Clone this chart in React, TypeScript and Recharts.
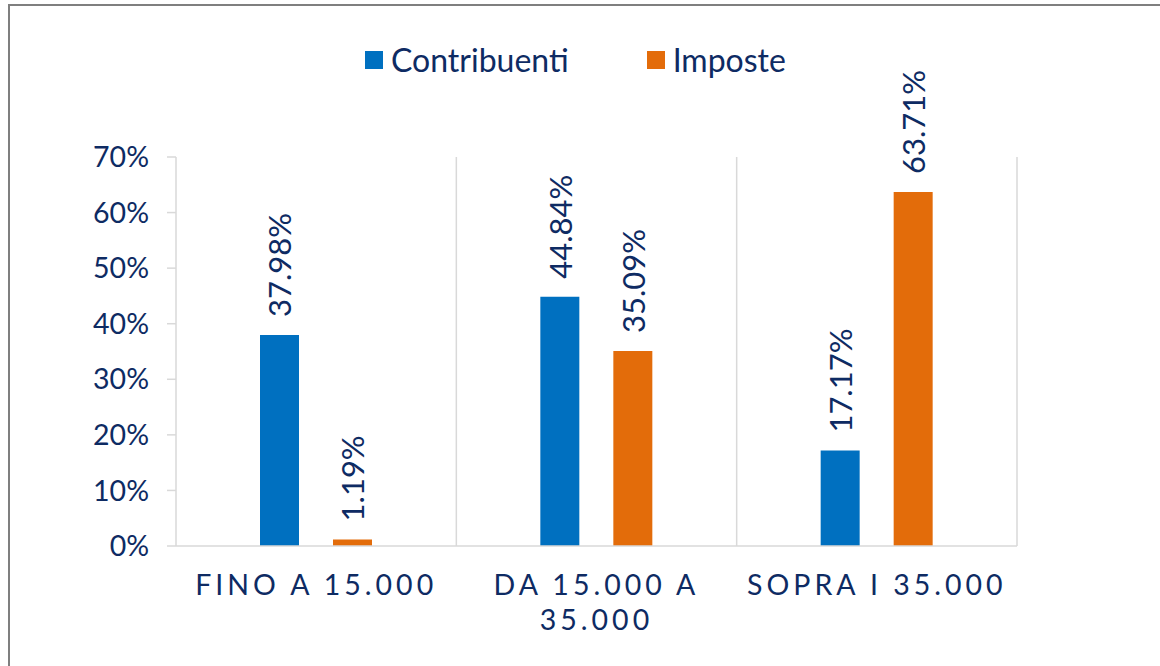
import { Bar, BarChart, CartesianGrid, LabelList, XAxis, YAxis } from 'recharts';

const categories = ['FINO A 15.000', 'DA 15.000 A 35.000', 'SOPRA I 35.000'];
const contribuenti = [37.98, 44.84, 17.17];
const imposte = [1.19, 35.09, 63.71];
const yTicks = [0, 10, 20, 30, 40, 50, 60, 70];

const NAVY = '#0E2B63';
const BLUE = '#0070C0';
const ORANGE = '#E36C0A';
const GRID = '#D9D9D9';
const FONT = 'Lato, "Open Sans", sans-serif';

const chartData = categories.map((name, i) => ({
  name,
  contribuenti: contribuenti[i],
  imposte: imposte[i],
}));

// simple greedy wrap so the long category splits like Excel does
const wrapLabel = (label: string, maxChars = 14): string[] => {
  const words = label.split(' ');
  const lines: string[] = [];
  let cur = '';
  words.forEach((w) => {
    const next = cur ? `${cur} ${w}` : w;
    if (next.length > maxChars && cur) {
      lines.push(cur);
      cur = w;
    } else {
      cur = next;
    }
  });
  if (cur) lines.push(cur);
  return lines;
};

const CategoryTick = ({ x, y, payload }: any) => {
  const lines = wrapLabel(String(payload.value));
  return (
    <text
      x={x}
      y={y}
      textAnchor="middle"
      fill={NAVY}
      fontSize={28.5}
      fontFamily={FONT}
      letterSpacing={4}
    >
      {lines.map((line, i) => (
        <tspan key={i} x={x} dy={i === 0 ? 49 : 35}>
          {line}
        </tspan>
      ))}
    </text>
  );
};

const ValueLabel = ({ x, y, width, value }: any) => {
  const cx = x + width / 2;
  const ty = y - 18;
  return (
    <text
      x={cx}
      y={ty}
      transform={`rotate(-90, ${cx}, ${ty})`}
      textAnchor="start"
      dominantBaseline="central"
      fill={NAVY}
      fontSize={31}
      fontFamily={FONT}
    >
      {`${Number(value).toFixed(2)}%`}
    </text>
  );
};

const LegendItem = ({ color, label }: { color: string; label: string }) => (
  <div style={{ display: 'flex', alignItems: 'center' }}>
    <span style={{ width: 18, height: 18, background: color, display: 'inline-block', marginRight: 8 }} />
    <span style={{ fontSize: 32, color: NAVY, fontFamily: FONT, lineHeight: '32px' }}>{label}</span>
  </div>
);

export default function App() {
  return (
    <div
      style={{
        position: 'fixed',
        left: 8,
        top: 4,
        width: 1170,
        height: 680,
        border: '2px solid #7F7F7F',
        boxSizing: 'border-box',
        background: '#fff',
      }}
    >
      <div
        style={{
          position: 'absolute',
          left: 355,
          top: 38,
          display: 'flex',
          gap: 78,
        }}
      >
        <LegendItem color={BLUE} label="Contribuenti" />
        <LegendItem color={ORANGE} label="Imposte" />
      </div>
      <BarChart
        width={1150}
        height={660}
        data={chartData}
        margin={{ top: 151, right: 143, bottom: 0, left: 0 }}
        barSize={39}
        barGap={34}
      >
        <CartesianGrid
          horizontal={false}
          stroke={GRID}
          strokeWidth={1.5}
          verticalCoordinatesGenerator={({ offset }: any) =>
            [1, 2, 3].map((i) => offset.left + (offset.width * i) / 3)
          }
        />
        <XAxis
          dataKey="name"
          height={120}
          interval={0}
          tickLine={false}
          tickSize={0}
          tickMargin={0}
          axisLine={{ stroke: GRID, strokeWidth: 1.5 }}
          tick={<CategoryTick />}
        />
        <YAxis
          width={166}
          domain={[0, 70]}
          ticks={yTicks}
          tickSize={9}
          tickMargin={18}
          tickFormatter={(v) => `${v}%`}
          axisLine={{ stroke: GRID, strokeWidth: 1.5 }}
          tickLine={{ stroke: GRID, strokeWidth: 1.5 }}
          tick={{ fill: NAVY, fontSize: 28.5, fontFamily: FONT }}
        />
        <Bar dataKey="contribuenti" fill={BLUE} isAnimationActive={false}>
          <LabelList dataKey="contribuenti" content={<ValueLabel />} />
        </Bar>
        <Bar dataKey="imposte" fill={ORANGE} isAnimationActive={false}>
          <LabelList dataKey="imposte" content={<ValueLabel />} />
        </Bar>
      </BarChart>
    </div>
  );
}
